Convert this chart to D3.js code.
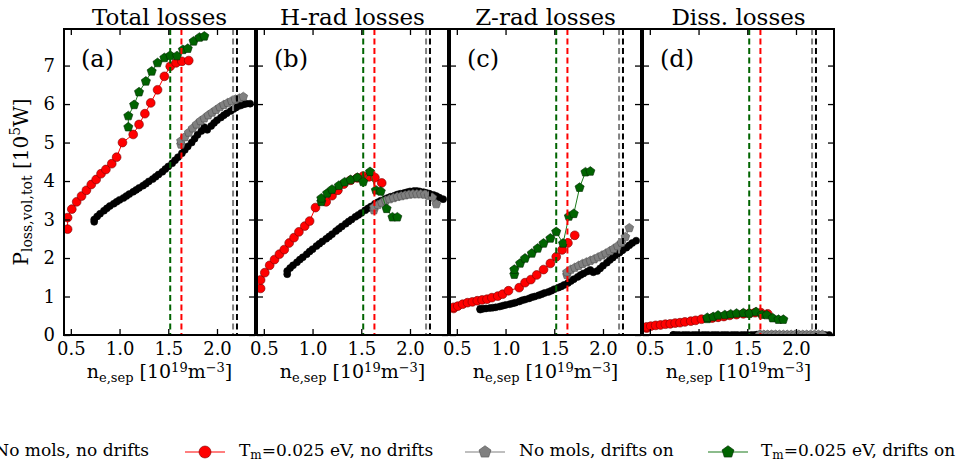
<!DOCTYPE html>
<html>
<head>
<meta charset="utf-8">
<script src="https://cdn.jsdelivr.net/npm/d3@7"></script>
<style>
  body { margin: 0; background: #fff; }
  svg { display: block; }
  text { font-family: "DejaVu Serif", serif; fill: #000; }
</style>
</head>
<body>
<svg id="fig" width="958" height="466"></svg>
<script>
// ---- panel and axis definitions ----
const panelTitles = ["Total losses", "H-rad losses", "Z-rad losses", "Diss. losses"];
const panelTags = ["(a)", "(b)", "(c)", "(d)"];
const xTicks = [0.5, 1.0, 1.5, 2.0];
const yTicks = [0, 1, 2, 3, 4, 5, 6, 7];

// ---- No mols, no drifts (black circles) ----
const noMolsNoDriftsX = [0.74,0.74,0.77,0.80,0.84,0.87,0.90,0.94,0.97,1.00,
  1.04,1.07,1.10,1.14,1.17,1.20,1.24,1.27,1.30,1.34,
  1.37,1.40,1.44,1.47,1.50,1.54,1.57,1.60,1.64,1.67,
  1.70,1.74,1.77,1.80,1.84,1.87,1.90,1.94,1.97,2.00,
  2.04,2.07,2.10,2.14,2.17,2.20,2.24,2.27,2.30,2.34];
const noMolsNoDriftsTotal = [2.94,3.00,3.08,3.15,3.23,3.29,3.35,3.41,3.46,3.51,
  3.56,3.61,3.66,3.72,3.77,3.82,3.88,3.93,3.99,4.05,
  4.11,4.17,4.24,4.31,4.38,4.46,4.54,4.62,4.72,4.81,
  4.90,5.00,5.10,5.20,5.30,5.40,5.33,5.43,5.51,5.58,
  5.65,5.71,5.76,5.82,5.87,5.92,5.96,5.99,6.01,6.01];
const noMolsNoDriftsHrad = [1.58,1.66,1.74,1.81,1.89,1.96,2.02,2.10,2.17,2.23,
  2.31,2.37,2.43,2.50,2.56,2.62,2.70,2.76,2.82,2.89,
  2.95,3.00,3.07,3.12,3.17,3.24,3.29,3.34,3.41,3.45,
  3.49,3.53,3.56,3.59,3.62,3.65,3.67,3.69,3.71,3.73,
  3.74,3.74,3.73,3.71,3.69,3.67,3.64,3.61,3.57,3.53];
const noMolsNoDriftsZrad = [0.66,0.68,0.68,0.69,0.70,0.71,0.72,0.74,0.76,0.78,
  0.80,0.82,0.84,0.87,0.90,0.92,0.95,0.98,1.00,1.03,
  1.06,1.09,1.12,1.15,1.19,1.23,1.26,1.30,1.35,1.40,
  1.45,1.51,1.56,1.60,1.65,1.69,1.63,1.66,1.73,1.80,
  1.88,1.95,2.01,2.08,2.14,2.20,2.27,2.33,2.39,2.45];
const noMolsNoDriftsDiss = [0.00,0.00,0.00,0.00,0.00,0.00,0.00,0.00,0.00,0.00,
  0.00,0.00,0.00,0.00,0.00,0.00,0.00,0.00,0.00,0.00,
  0.00,0.00,0.00,0.00,0.00,0.00,0.00,0.01,0.01,0.01,
  0.01,0.01,0.01,0.01,0.00,0.00,0.00,0.00,0.00,0.00,
  0.00,0.00,0.00,0.00,0.00,0.00,0.00,0.00,0.00,0.00];

// ---- Tm=0.025 eV, no drifts (red circles) ----
const tmNoDriftsX = [0.467,0.467,0.51,0.56,0.61,0.66,0.71,0.76,0.81,0.86,0.92,0.97,
  1.03,1.14,1.20,1.26,1.32,1.39,1.46,1.52,1.58,1.64,1.71];
const tmNoDriftsTotal = [2.75,3.05,3.27,3.46,3.61,3.76,3.91,4.04,4.19,4.30,4.45,4.62,
  5.00,5.21,5.47,5.75,6.03,6.37,6.72,6.98,7.07,7.11,7.13];
const tmNoDriftsHrad = [1.21,1.43,1.62,1.81,1.96,2.10,2.22,2.39,2.53,2.68,2.83,2.96,
  3.31,3.46,3.62,3.76,3.92,4.02,4.08,4.13,4.11,4.09,3.95];
const tmNoDriftsZrad = [0.69,0.72,0.75,0.80,0.84,0.86,0.89,0.91,0.93,0.97,1.01,1.06,
  1.15,1.23,1.36,1.44,1.56,1.70,1.86,2.03,2.21,2.39,2.59];
const tmNoDriftsDiss = [0.18,0.21,0.23,0.25,0.26,0.28,0.29,0.31,0.32,0.34,0.36,0.38,
  0.41,0.44,0.46,0.48,0.51,0.53,0.55,0.56,0.58,0.58,0.55];

// ---- No mols, drifts on (grey pentagons) ----
const noMolsDriftsX = [1.63,1.63,1.67,1.71,1.75,1.79,1.83,1.87,1.91,
  1.95,1.99,2.03,2.07,2.11,2.15,2.19,2.23,2.27];
const noMolsDriftsTotal = [4.95,5.04,5.14,5.26,5.37,5.47,5.56,5.63,5.71,
  5.78,5.85,5.92,5.98,6.03,6.08,6.12,6.15,6.19];
const noMolsDriftsHrad = [3.24,3.32,3.38,3.44,3.49,3.53,3.56,3.59,3.61,
  3.63,3.65,3.66,3.66,3.66,3.65,3.62,3.57,3.40];
const noMolsDriftsZrad = [1.56,1.63,1.70,1.75,1.80,1.85,1.89,1.93,1.97,
  2.02,2.07,2.12,2.18,2.24,2.31,2.40,2.55,2.78];
const noMolsDriftsDiss = [0.01,0.01,0.01,0.01,0.01,0.01,0.01,0.01,0.01,
  0.01,0.01,0.01,0.01,0.01,0.01,0.01,0.01,0.01];

// ---- Tm=0.025 eV, drifts on (green pentagons) ----
const tmDriftsX = [1.09,1.09,1.15,1.20,1.27,1.33,1.39,1.46,1.52,1.59,1.65,1.70,1.76,1.82,1.87];
const tmDriftsTotal = [5.40,5.69,5.98,6.31,6.59,6.85,7.07,7.20,7.26,7.25,7.41,7.44,7.63,7.73,7.76];
const tmDriftsHrad = [3.46,3.55,3.68,3.78,3.88,3.97,4.03,4.09,3.98,4.24,3.76,3.73,3.28,3.06,3.06];
const tmDriftsZrad = [1.57,1.70,1.86,1.99,2.12,2.25,2.38,2.51,2.68,2.38,3.08,3.15,3.83,4.23,4.25];
const tmDriftsDiss = [0.42,0.45,0.47,0.51,0.52,0.54,0.56,0.57,0.56,0.60,0.53,0.52,0.44,0.40,0.40];

// ---- detachment-onset separatrix densities (dashed verticals) ----
const onsetDensity = [1.52, 1.635, 2.165, 2.205];
const onsetColors = ["#006400", "#ff0000", "#808080", "#000000"];

// ---- series styling ----
const series = [
  { name: "No mols, no drifts", x: noMolsNoDriftsX,
    ys: [noMolsNoDriftsTotal, noMolsNoDriftsHrad, noMolsNoDriftsZrad, noMolsNoDriftsDiss],
    line: "#000", fill: "#000", edge: "#000", shape: "circle", r: 3.5 },
  { name: "Tm=0.025 eV, no drifts", sub: true, x: tmNoDriftsX,
    ys: [tmNoDriftsTotal, tmNoDriftsHrad, tmNoDriftsZrad, tmNoDriftsDiss],
    line: "#ff0000", fill: "#ff0000", edge: "#7a0000", shape: "circle", r: 4.4 },
  { name: "No mols, drifts on", x: noMolsDriftsX,
    ys: [noMolsDriftsTotal, noMolsDriftsHrad, noMolsDriftsZrad, noMolsDriftsDiss],
    line: "#808080", fill: "#808080", edge: "#505050", shape: "pentagon", r: 4.6 },
  { name: "Tm=0.025 eV, drifts on", sub: true, x: tmDriftsX,
    ys: [tmDriftsTotal, tmDriftsHrad, tmDriftsZrad, tmDriftsDiss],
    line: "#1b7a1b", fill: "#006400", edge: "#002800", shape: "pentagon", r: 4.8 }
];

// ---- layout ----
const svg = d3.select("#fig");
const panelLeft = [64, 257, 450, 643];
const panelW = 191, plotTop = 29, plotBottom = 335, panelH = plotBottom - plotTop;

const x = d3.scaleLinear().domain([0.43, 2.39]).range([0, panelW]);
const y = d3.scaleLinear().domain([0, 7.95]).range([panelH, 0]);

function pentagonPath(r) {
  const pts = d3.range(5).map(k => {
    const a = -Math.PI / 2 + k * 2 * Math.PI / 5;
    return [r * Math.cos(a), r * Math.sin(a)];
  });
  return "M" + pts.map(p => p[0].toFixed(2) + "," + p[1].toFixed(2)).join("L") + "Z";
}

function drawMarker(sel, s) {
  if (s.shape === "circle") {
    return sel.append("circle").attr("r", s.r);
  }
  return sel.append("path").attr("d", pentagonPath(s.r));
}

const defs = svg.append("defs");
defs.append("clipPath").attr("id", "plotClip")
  .append("rect").attr("x", 0).attr("y", 0).attr("width", panelW).attr("height", panelH);

panelTitles.forEach((title, p) => {
  const g = svg.append("g").attr("transform", `translate(${panelLeft[p]},${plotTop})`);

  // title
  svg.append("text")
    .attr("x", panelLeft[p] + panelW / 2).attr("y", 25)
    .attr("text-anchor", "middle").attr("font-size", 23)
    .text(title);

  const plot = g.append("g").attr("clip-path", "url(#plotClip)");

  // data series
  series.forEach(s => {
    const pts = s.x.map((v, i) => [v, s.ys[p][i]]);
    plot.append("path")
      .attr("d", d3.line().x(d => x(d[0])).y(d => y(d[1]))(pts))
      .attr("fill", "none").attr("stroke", s.line).attr("stroke-width", 1);
    pts.forEach(d => {
      const m = plot.append("g").attr("transform", `translate(${x(d[0])},${y(d[1])})`);
      drawMarker(m, s).attr("fill", s.fill).attr("stroke", s.edge).attr("stroke-width", 0.6);
    });
  });

  // detachment onset markers
  onsetDensity.forEach((v, i) => {
    plot.append("line")
      .attr("x1", x(v)).attr("x2", x(v)).attr("y1", 0).attr("y2", panelH)
      .attr("stroke", onsetColors[i]).attr("stroke-width", 2)
      .attr("stroke-dasharray", "6,3.5");
  });

  // axes with inward ticks on all four sides
  const axB = d3.axisBottom(x).tickValues(xTicks).tickSize(-6).tickPadding(7).tickFormat(d3.format(".1f"));
  const axT = d3.axisTop(x).tickValues(xTicks).tickSize(-6).tickFormat("");
  const axL = d3.axisLeft(y).tickValues(yTicks).tickSize(-6).tickPadding(9)
    .tickFormat(p === 0 ? d3.format("d") : "");
  const axR = d3.axisRight(y).tickValues(yTicks).tickSize(-6).tickFormat("");

  [[axB, `translate(0,${panelH})`], [axT, "translate(0,0)"],
   [axL, "translate(0,0)"], [axR, `translate(${panelW},0)`]].forEach(([ax, tr]) => {
    const a = g.append("g").attr("transform", tr).call(ax);
    a.select(".domain").remove();
    a.selectAll(".tick line").attr("stroke", "#000").attr("stroke-width", 1.3);
    a.selectAll(".tick text").attr("font-family", "DejaVu Serif, serif").attr("font-size", 18).attr("fill", "#000");
  });

  // frame
  g.append("rect").attr("x", 0).attr("y", 0).attr("width", panelW).attr("height", panelH)
    .attr("fill", "none").attr("stroke", "#000").attr("stroke-width", 2);

  // panel tag
  g.append("text").attr("x", 17).attr("y", 38).attr("font-size", 24).text(panelTags[p]);

  // x label
  const xl = svg.append("text")
    .attr("x", panelLeft[p] + panelW / 2).attr("y", 378)
    .attr("text-anchor", "middle").attr("font-size", 19);
  xl.append("tspan").text("n");
  xl.append("tspan").attr("font-size", 13).attr("dy", 4).text("e,sep");
  xl.append("tspan").attr("dy", -4).text(" [10");
  xl.append("tspan").attr("font-size", 13).attr("dy", -6).text("19");
  xl.append("tspan").attr("dy", 6).text("m");
  xl.append("tspan").attr("font-size", 13).attr("dy", -6).text("\u22123");
  xl.append("tspan").attr("dy", 6).text("]");
});

// y label
const yl = svg.append("text")
  .attr("transform", "translate(28,182) rotate(-90)")
  .attr("text-anchor", "middle").attr("font-size", 20);
yl.append("tspan").text("P");
yl.append("tspan").attr("font-size", 14).attr("dy", 4).text("loss,vol,tot");
yl.append("tspan").attr("dy", -4).text(" [10");
yl.append("tspan").attr("font-size", 14).attr("dy", -8).text("5");
yl.append("tspan").attr("dy", 8).text("W]");

// legend
const legendY = 452;
const legendItems = [
  { s: series[0], cx: -33, tx: 149, anchor: "end" },
  { s: series[1], cx: 205, tx: 239, anchor: "start" },
  { s: series[2], cx: 485, tx: 519, anchor: "start" },
  { s: series[3], cx: 728, tx: 761, anchor: "start" }
];
legendItems.forEach(it => {
  const lg = svg.append("g");
  lg.append("line").attr("x1", it.cx - 20).attr("x2", it.cx + 20)
    .attr("y1", legendY).attr("y2", legendY)
    .attr("stroke", it.s.line).attr("stroke-width", 1.2);
  const m = lg.append("g").attr("transform", `translate(${it.cx},${legendY})`);
  drawMarker(m, Object.assign({}, it.s, { r: it.s.shape === "circle" ? 6 : 6.3 }))
    .attr("fill", it.s.fill).attr("stroke", it.s.edge).attr("stroke-width", 0.6);
  const t = lg.append("text").attr("x", it.tx).attr("y", legendY + 4)
    .attr("text-anchor", it.anchor).attr("font-size", 17);
  if (it.s.sub) {
    t.append("tspan").text("T");
    t.append("tspan").attr("font-size", 12).attr("dy", 3).text("m");
    t.append("tspan").attr("dy", -3).text(it.s.name.replace("Tm", ""));
  } else {
    t.text(it.s.name);
  }
});
</script>
</body>
</html>
